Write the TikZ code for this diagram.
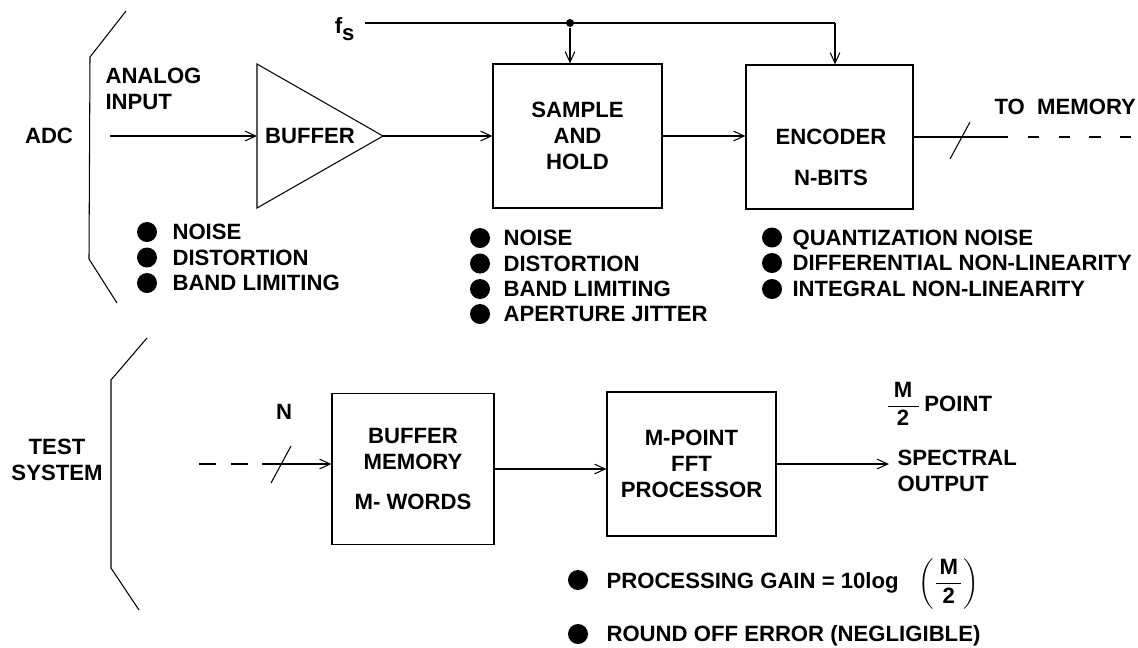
\documentclass[tikz,border=0pt]{standalone}
\usepackage{amsmath}
\usepackage{fontspec}
\setmainfont{Liberation Sans}
\usetikzlibrary{arrows.meta,positioning}

\begin{document}
\begin{tikzpicture}[x=0.02cm,y=-0.02cm,line width=0.6pt,
  >={Straight Barb[length=6pt,width=5.5pt]},
  every node/.style={font=\bfseries\fontsize{12.6}{14.7}\selectfont,inner sep=0pt},
  box/.style={draw,line width=0.7pt,align=center},
  item/.style={anchor=west,text height=9pt,text depth=0pt},
  bul/.style={circle,fill,minimum size=4mm},
  junc/.style={circle,fill,minimum size=1.6mm}]
\useasboundingbox (0,0) rectangle (1138,647);

% ADC part
\draw (126,11) -- (90,57) -- (89,259) -- (117,303);
\node (adc) at (49,136) {ADC};
\node[anchor=west,align=left] (ain) at (105,89) {ANALOG\\INPUT};
\coordinate (in) at (110,136);
\draw (257,64) -- (383,136) -- (257,208) -- cycle;
\coordinate (bufin) at (257,136);
\coordinate (bufout) at (383,136);
\node (buf) at (310,136) {BUFFER};
\node[box,minimum width=3.38cm,minimum height=2.88cm] (sh) at (577.5,136) {SAMPLE\\AND\\HOLD};
\node[box,minimum width=3.34cm,minimum height=2.88cm] (enc) at (829.5,137) {};
\node[align=center] (enctxt) at (831,157) {ENCODER\\[8.5pt]N-BITS};

\node[anchor=base east] (fs) at (355,33) {f\raisebox{-4pt}{s}};
\coordinate (clkin) at (365,23);
\coordinate (clk) at (835,23);
\node[junc] (tap) at (570,23) {};
\draw (clkin) -- (clk);
\draw[->] (clk) -- (clk |- enc.north);
\draw[->] (tap) -- (tap |- sh.north);

\draw[->] (in) -- (bufin);
\draw[->] (bufout) -- (sh.west);
\draw[->] (sh.east) -- (sh.east -| enc.west);
\coordinate (memout) at (997,137);
\coordinate (memend) at (1138,137);
\draw (enc.east) -- (memout);
\draw[dash pattern=on 6.5pt off 11pt] (memout) -- (memend);
\coordinate (bus1) at (960,140.5);
\draw ([shift={(10,-18.5)}]bus1) -- ([shift={(-10,18.5)}]bus1);
\node[anchor=west] (tomem) at (994,107) {TO\ \ MEMORY};

% error sources
\node[bul] (b1) at (147,232) {};
\node[bul] (b2) at (147,257.5) {};
\node[bul] (b3) at (147,283) {};
\node[item] (t1) at (172,232) {NOISE};
\node[item] (t2) at (172,257.5) {DISTORTION};
\node[item] (t3) at (172,283) {BAND LIMITING};

\node[bul] (b4) at (480,238) {};
\node[bul] (b5) at (480,263.5) {};
\node[bul] (b6) at (480,289) {};
\node[bul] (b7) at (480,314) {};
\node[item] (t4) at (503,238) {NOISE};
\node[item] (t5) at (503,263.5) {DISTORTION};
\node[item] (t6) at (503,289) {BAND LIMITING};
\node[item] (t7) at (503,314) {APERTURE JITTER};

\node[bul] (b8) at (772,237.5) {};
\node[bul] (b9) at (772,263) {};
\node[bul] (b10) at (772,289) {};
\node[item] (t8) at (792,237.5) {QUANTIZATION NOISE};
\node[item] (t9) at (792,263) {DIFFERENTIAL NON-LINEARITY};
\node[item] (t10) at (792,289) {INTEGRAL NON-LINEARITY};

% test system part
\draw (147,338) -- (111,380) -- (111,568) -- (139,610);
\node[align=center] (ts) at (57,459.5) {TEST\\SYSTEM};
\node (n) at (284,412) {N};
\node[box,minimum width=3.24cm,minimum height=3.02cm] (mem) at (413,469) {BUFFER\\MEMORY\\[8.5pt]M- WORDS};
\node[box,minimum width=3.38cm,minimum height=2.88cm] (fft) at (691.5,464) {M-POINT\\FFT\\PROCESSOR};
\coordinate (busin) at (199,464);
\coordinate (bussol) at (262,464);
\draw[line width=1.4pt,dash pattern=on 9.6pt off 8.5pt] (busin) -- (bussol);
\draw[->] (bussol) -- (bussol -| mem.west);
\coordinate (bus2) at (281,464.5);
\draw ([shift={(10,-18.5)}]bus2) -- ([shift={(-10,18.5)}]bus2);
\draw[->] (mem.east) -- (mem.east -| fft.west);
\coordinate (specin) at (889,464);
\draw[->] (fft.east) -- (specin);
\node[anchor=west] (mpt) at (885,404) {$\dfrac{\makebox[0.62cm]{M}}{\text{2}}$\,POINT};
\node[anchor=west,align=left] (spec) at (897,470.5) {SPECTRAL\\OUTPUT};

\node[bul] (b11) at (578,580) {};
\node[bul] (b12) at (578,634) {};
\node[item] (t11) at (606,581) {PROCESSING GAIN = 10log\hspace{0.4cm}$\left(\dfrac{\makebox[0.5cm]{M}}{\text{2}}\right)$};
\node[item] (t12) at (606,634) {ROUND OFF ERROR (NEGLIGIBLE)};
\end{tikzpicture}
\end{document}
